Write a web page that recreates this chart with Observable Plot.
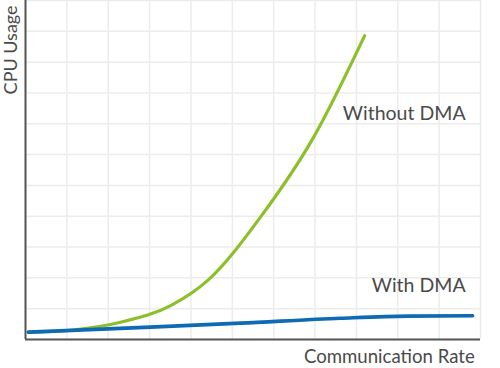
<!DOCTYPE html>
<html>
<head>
<meta charset="utf-8">
<script src="https://cdn.jsdelivr.net/npm/d3@7"></script>
<script src="https://cdn.jsdelivr.net/npm/@observablehq/plot@0.6"></script>
<style>
  html, body { margin: 0; padding: 0; background: #fff; }
  #chart svg { display: block; }
</style>
</head>
<body>
<div id="chart"></div>
<script>
// Grid positions (no tick labels in the reference)
const gridX = [0, 1, 2, 3, 4, 5, 6, 7, 8, 9, 10, 11];
const gridY = [0, 1, 2, 3, 4, 5, 6, 7, 8, 9, 10, 11];

// Without DMA (green)
const withoutX = [0.07, 1.10, 2.30, 3.51, 4.40, 5.68, 6.96, 8.20];
const withoutY = [0.23, 0.30, 0.56, 1.10, 1.91, 3.97, 6.55, 9.86];

// With DMA (blue)
const withX = [0.07, 3.02, 5.20, 7.62, 9.24, 10.81];
const withY = [0.24, 0.40, 0.53, 0.69, 0.76, 0.77];

const seriesNames = ["Without DMA", "With DMA"];
const xLabel = "Communication Rate";
const yLabel = "CPU Usage";

const without = withoutX.map((x, i) => ({x, y: withoutY[i]}));
const withD = withX.map((x, i) => ({x, y: withY[i]}));

const font = "Lato, 'Open Sans', sans-serif";
const textColor = "#4a4a4a";
const fs = 19.5;

const chart = Plot.plot({
  width: 500,
  height: 368,
  marginLeft: 25,
  marginRight: 20,
  marginTop: 0,
  marginBottom: 29,
  x: {domain: [0, 11], axis: null},
  y: {domain: [0, 11], axis: null},
  style: {fontFamily: font, background: "#fff"},
  marks: [
    Plot.ruleX(gridX, {stroke: "#ececec", strokeWidth: 1.5}),
    Plot.ruleY(gridY, {stroke: "#ececec", strokeWidth: 1.5}),
    Plot.line(without, {x: "x", y: "y", curve: "monotone-x", stroke: "#8cc02a", strokeWidth: 3.2, strokeLinecap: "round"}),
    Plot.line(withD, {x: "x", y: "y", curve: "monotone-x", stroke: "#0d6ab5", strokeWidth: 3.6, strokeLinecap: "round"}),
    Plot.ruleX([0], {stroke: "#555", strokeWidth: 2}),
    Plot.ruleY([0], {stroke: "#555", strokeWidth: 2}),
    Plot.text([seriesNames[0]], {x: 10.64, y: 7.32, text: d => d, textAnchor: "end", fontSize: fs, fill: textColor}),
    Plot.text([seriesNames[1]], {x: 10.64, y: 1.76, text: d => d, textAnchor: "end", fontSize: fs, fill: textColor}),
    Plot.text([xLabel], {x: 10.86, y: -0.58, text: d => d, textAnchor: "end", fontSize: 18.6, fill: textColor}),
    Plot.text([yLabel], {x: -0.35, y: 10.84, text: d => d, textAnchor: "end", rotate: -90, fontSize: 18, fill: textColor})
  ]
});
document.getElementById("chart").appendChild(chart);
</script>
</body>
</html>
